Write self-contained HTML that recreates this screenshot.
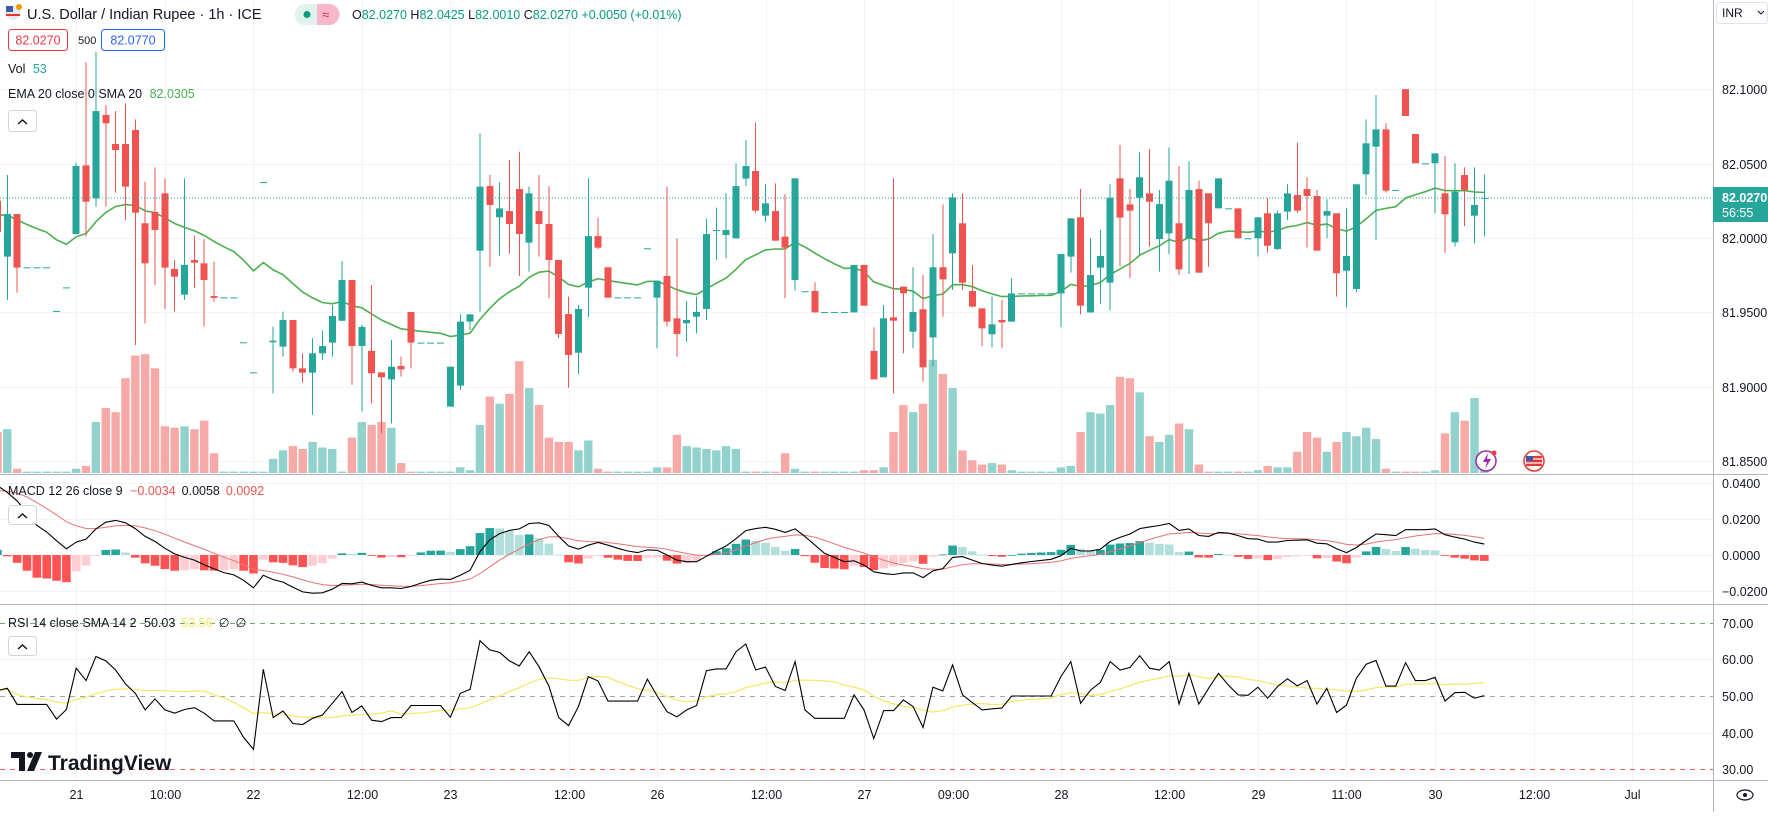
<!DOCTYPE html>
<html><head><meta charset="utf-8">
<style>
html,body{margin:0;padding:0;background:#fff;}
body{width:1768px;height:812px;overflow:hidden;font-family:"Liberation Sans",sans-serif;}
svg text{font-family:"Liberation Sans",sans-serif;}
</style></head>
<body>
<svg id="chart" xmlns="http://www.w3.org/2000/svg" width="1768" height="812" viewBox="0 0 1768 812">
  <rect x="0" y="0" width="1768" height="812" fill="#ffffff"/>
  <g id="grid"></g>
  <g id="vol"></g>
  <g id="ema"></g>
  <g id="candles"></g>
  <line x1="0" y1="198" x2="1713" y2="198" stroke="#26a69a" stroke-width="1" stroke-dasharray="1,2"/>
  <g id="macd"></g>
  <g id="rsi"></g>
  <g id="axes"></g>

  <!-- header -->
  <g>
    <circle cx="13" cy="13" r="7" fill="#e8e8f0"/>
    <rect x="6" y="6" width="7" height="6" fill="#3c5aa6"/>
    <line x1="6" y1="15" x2="20" y2="15" stroke="#d33" stroke-width="2"/>
    <circle cx="19" cy="7" r="3" fill="#f29900"/>
    <text x="27" y="19" font-size="14.5" fill="#131722">U.S. Dollar / Indian Rupee · 1h · ICE</text>
    <rect x="295" y="4" width="44" height="21" rx="10" fill="#dff3ec"/>
    <path d="M317 4 h12 a10 10 0 0 1 0 21 h-12 z" fill="#f7b8cc"/>
    <circle cx="307" cy="14.5" r="3.5" fill="#089981"/>
    <text x="322" y="19" font-size="13" fill="#e0245e">≈</text>
    <text x="352" y="19" font-size="12.5" fill="#089981"><tspan fill="#131722">O</tspan>82.0270 <tspan fill="#131722">H</tspan>82.0425 <tspan fill="#131722">L</tspan>82.0010 <tspan fill="#131722">C</tspan>82.0270 +0.0050 (+0.01%)</text>
    <rect x="8.5" y="29.5" width="59" height="21" rx="3" fill="#fff" stroke="#f23645"/>
    <text x="38" y="44.5" font-size="12.5" fill="#f23645" text-anchor="middle">82.0270</text>
    <text x="78" y="44" font-size="11" fill="#131722">500</text>
    <rect x="101.5" y="29.5" width="63" height="21" rx="3" fill="#fff" stroke="#2962ff"/>
    <text x="133" y="44.5" font-size="12.5" fill="#2962ff" text-anchor="middle">82.0770</text>
    <text x="8" y="73" font-size="12.5" fill="#131722">Vol <tspan fill="#26a69a" dx="4">53</tspan></text>
    <text x="8" y="98" font-size="12.5" fill="#131722">EMA 20 close 0 SMA 20 <tspan fill="#4caf50" dx="4">82.0305</tspan></text>
    <rect x="8.5" y="110.5" width="28" height="21" rx="3" fill="#fff" stroke="#d1d4dc"/>
    <path d="M18 124 l4.5 -4 l4.5 4" fill="none" stroke="#131722" stroke-width="1.5"/>
  </g>
  <g>
    <text x="8" y="495" font-size="12.5" fill="#131722">MACD 12 26 close 9 <tspan fill="#ef5350" dx="4">−0.0034</tspan><tspan fill="#131722" dx="6">0.0058</tspan><tspan fill="#ef5350" dx="6">0.0092</tspan></text>
    <rect x="8.5" y="505.5" width="28" height="19" rx="3" fill="#fff" stroke="#d1d4dc"/>
    <path d="M18 518 l4.5 -4 l4.5 4" fill="none" stroke="#131722" stroke-width="1.5"/>
  </g>
  <g>
    <text x="8" y="627" font-size="12.5" fill="#131722">RSI 14 close SMA 14 2 <tspan fill="#131722" dx="4">50.03</tspan><tspan fill="#f5e663" dx="6">53.56</tspan><tspan dx="6">∅</tspan><tspan dx="6">∅</tspan></text>
    <rect x="8.5" y="636.5" width="28" height="19" rx="3" fill="#fff" stroke="#d1d4dc"/>
    <path d="M18 649 l4.5 -4 l4.5 4" fill="none" stroke="#131722" stroke-width="1.5"/>
  </g>
  <g>
    <path d="M11 752 h14 v19 h-6 v-13 h-8 z" fill="#131722"/>
    <circle cx="30" cy="755" r="3" fill="#131722"/>
    <path d="M35 752 h7 l-8 19 h-7 z" fill="#131722"/>
    <text x="48" y="770" font-size="21" font-weight="bold" fill="#131722">TradingView</text>
  </g>
  <g>
    <circle cx="1486" cy="461" r="10" fill="#fff" stroke="#9c27b0" stroke-width="1.5"/>
    <path d="M1488 453 l-5 9 h4 l-2 7 l6 -10 h-4 z" fill="#9c27b0"/>
    <circle cx="1494" cy="453" r="2.5" fill="#f23645"/>
    <circle cx="1534" cy="461" r="10" fill="#fff" stroke="#e53935" stroke-width="1.5"/>
    <rect x="1526" y="456" width="16" height="10" fill="#e53935"/>
    <rect x="1526" y="456" width="7" height="5" fill="#3c5aa6"/>
    <line x1="1533" y1="459" x2="1542" y2="459" stroke="#fff" stroke-width="1.2"/>
    <line x1="1526" y1="463" x2="1542" y2="463" stroke="#fff" stroke-width="1.2"/>
  </g>
  <g>
    <rect x="1716.5" y="2.5" width="51" height="21" rx="3" fill="#fff" stroke="#e0e3eb"/>
    <text x="1722" y="17" font-size="12" fill="#131722">INR</text>
    <path d="M1758 11 l3 3 l3 -3" fill="none" stroke="#131722" stroke-width="1"/>
  </g>
  <g>
    <rect x="1713" y="187" width="55" height="35" fill="#26a69a"/>
    <text x="1722" y="202" font-size="12.5" font-weight="bold" fill="#fff">82.0270</text>
    <text x="1722" y="217" font-size="12.5" fill="#fff">56:55</text>
  </g>
  <g>
    <ellipse cx="1745" cy="795" rx="8" ry="5" fill="none" stroke="#131722" stroke-width="1.2"/>
    <circle cx="1745" cy="795" r="2" fill="#131722"/>
  </g>
</svg>
<script>
// ---------- data (index 0 corresponds to the partially visible candle at left edge) ----------
const opens = [82.025,81.9875,82.0161,81.9803,81.9803,81.9803,81.951,81.9668,82.0027,82.0488,82.0267,82.0827,82.0632,82.0632,82.0726,82.0099,82.0175,82.03,81.9792,81.9619,81.9852,81.983,81.961,81.9601,81.9601,81.9299,81.9097,82.0376,81.9299,81.927,81.9449,81.9124,81.9095,81.9225,81.9297,81.9444,81.9718,81.9274,81.9241,81.9097,81.905,81.914,81.9503,81.9297,81.9297,81.9297,81.8867,81.9008,81.9438,81.9915,82.0349,82.0139,82.0181,82.0329,81.9969,82.0181,82.0094,81.9852,81.9489,81.9229,81.9666,82.0013,81.9803,81.9601,81.9601,81.9601,81.9931,81.9599,81.9745,81.946,81.9427,81.9471,81.9523,82.0049,82.002,81.9998,82.0399,82.045,82.015,82.0181,82.0009,81.9718,81.9642,81.9644,81.9503,81.9503,81.9503,81.95,81.9819,81.9241,81.9064,81.9467,81.9673,81.937,81.9521,81.9332,81.9803,81.9897,82.0099,81.9644,81.9527,81.9353,81.9449,81.9438,81.9628,81.9628,81.9628,81.9628,81.9628,81.9875,82.0139,81.95,81.9801,81.97,82.0401,82.0226,82.0271,82.03,81.9993,82.0031,82.0099,81.9998,82.0329,82.03,82.0199,82.0199,82.0199,81.9998,81.9998,82.0166,81.9926,82.0177,82.0289,82.0329,82.0282,82.015,82.0166,81.978,81.9657,82.0428,82.0614,82.073,82.0323,82.1,82.0699,82.0502,82.0502,82.03,81.9971,82.0423,82.015,82.027];
const highs = [82.046,82.0423,82.0161,81.9803,81.9803,81.9803,81.951,81.9668,82.0506,82.118,82.125,82.0894,82.0853,82.0905,82.0797,82.0379,82.0475,82.0401,81.9852,82.0401,82.0016,81.9993,81.9841,81.9601,81.9601,81.9299,81.9097,82.0376,81.9404,81.9505,81.9449,81.9225,81.9326,81.9377,81.955,81.9845,81.9718,81.9415,81.9684,81.9097,81.9315,81.9203,81.9503,81.9297,81.9297,81.9297,81.9135,81.9487,81.9487,82.0703,82.0423,82.0374,82.0524,82.058,82.0345,82.0423,82.0349,81.9852,81.9606,81.955,82.0401,82.0137,81.9803,81.9601,81.9601,81.9601,81.9931,81.9713,82.0345,81.9998,81.9577,81.9606,82.0128,82.0204,82.03,82.0502,82.0659,82.0775,82.0361,82.0367,82.0296,82.0401,81.9642,81.9702,81.9503,81.9503,81.9503,81.9819,81.9819,81.94,81.955,82.0401,81.9673,81.9803,81.9751,82.0027,82.0226,82.03,82.03,81.9819,81.9527,81.9606,81.9583,81.9729,81.9628,81.9628,81.9628,81.9628,81.9892,82.0132,82.0329,81.9998,82.0054,82.0361,82.0625,82.0329,82.0576,82.0598,82.0323,82.0609,82.0484,82.0515,82.0385,82.03,82.0401,82.0199,82.0199,81.9998,82.0139,82.0267,82.0184,82.0361,82.0641,82.0408,82.0323,82.026,82.0166,82.0199,82.0361,82.0797,82.0961,82.0771,82.0323,82.1,82.0699,82.0502,82.0569,82.0551,82.0502,82.0475,82.0475,82.0425];
const lows = [81.999,81.9583,81.9633,81.9803,81.9803,81.9803,81.951,81.9668,82.0027,82.001,82.021,82.021,82.0305,82.0121,81.9281,81.9427,81.9684,81.9525,81.9505,81.9583,81.9666,81.9404,81.9572,81.9601,81.9601,81.9299,81.9097,82.0376,81.8956,81.9203,81.9102,81.9028,81.8811,81.918,81.9203,81.9442,81.9012,81.8833,81.8889,81.8687,81.8755,81.9068,81.9124,81.9297,81.9297,81.9297,81.8867,81.8979,81.9382,81.9505,81.9807,81.9881,81.9897,81.9745,81.9774,81.9875,81.9595,81.9326,81.8994,81.9086,81.9471,81.9924,81.9599,81.9601,81.9601,81.9601,81.9931,81.9259,81.9404,81.9203,81.9303,81.9359,81.9449,81.9852,81.9863,81.9998,82.0349,82.017,82.011,81.9982,81.9595,81.9646,81.9642,81.95,81.9503,81.9503,81.9503,81.95,81.9545,81.905,81.9064,81.8956,81.9225,81.9259,81.9035,81.9135,81.9471,81.9651,81.9651,81.9534,81.9274,81.9265,81.9259,81.9438,81.9628,81.9628,81.9628,81.9628,81.94,81.9767,81.9487,81.9498,81.9557,81.9514,81.9807,81.9731,81.9886,81.9942,81.9774,81.9892,81.9751,81.9758,81.9767,81.9807,82.0199,82.0199,81.9998,81.9998,81.9875,81.9901,81.9919,82.0121,82.017,81.9937,81.9915,81.9998,81.9606,81.9534,81.9635,82.0289,81.9987,82.0305,82.0323,82.082,82.0502,82.0502,82.0166,81.9901,81.9942,82.0081,81.9964,82.001];
const closes = [82.004,82.0161,81.9801,81.9803,81.9803,81.9803,81.951,81.9668,82.0484,82.0244,82.0853,82.0771,82.0591,82.0345,82.017,81.983,82.0054,81.9801,81.974,81.9819,81.9834,81.9718,81.9597,81.9601,81.9601,81.9299,81.9097,82.0376,81.931,81.9449,81.9124,81.9095,81.9225,81.9274,81.9476,81.9718,81.9274,81.9402,81.9091,81.9064,81.9135,81.9117,81.9297,81.9297,81.9297,81.9297,81.9135,81.9438,81.9487,82.0345,82.0222,82.0199,82.0094,82.0027,82.03,82.0094,81.9852,81.9355,81.9214,81.9523,82.0013,81.9935,81.9599,81.9601,81.9601,81.9601,81.9931,81.9713,81.9438,81.9355,81.9449,81.9503,82.0027,82.0054,82.0054,82.0349,82.0484,82.0184,82.0233,81.9982,81.9935,82.0401,81.9642,81.95,81.9503,81.9503,81.9503,81.9819,81.9545,81.905,81.946,81.9444,81.9628,81.9503,81.9131,81.9803,81.9722,82.0273,81.97,81.9539,81.9393,81.942,81.9433,81.9628,81.9628,81.9628,81.9628,81.9628,81.9892,82.0132,81.9545,81.9751,81.9879,82.0271,82.0137,82.0184,82.0408,82.0244,82.0228,82.0385,81.9789,82.0323,81.9767,82.0099,82.0401,82.0199,81.9998,81.9998,82.0139,81.9948,82.0166,82.03,82.0184,82.0282,81.9915,82.0181,81.9763,81.9879,82.0361,82.0636,82.073,82.0318,82.0323,82.082,82.0502,82.0502,82.0569,82.0159,82.0311,82.0323,82.0222,82.027];
const volumes = [29,31,3,1,1,1,1,1,3,5,36,46,43,67,83,84,74,33,32,33,31,37,14,1,1,1,1,1,10,16,19,17,22,18,17,1,25,36,34,36,32,7,1,1,1,1,1,4,2,34,54,49,56,79,60,48,25,22,22,16,23,3,1,1,1,1,1,4,4,27,19,18,17,16,19,17,1,1,1,1,14,3,1,1,1,1,1,1,2,2,4,29,48,43,49,80,70,60,16,9,6,7,6,2,1,1,1,1,4,5,29,43,42,48,68,67,57,26,22,27,35,31,6,1,1,1,1,1,2,5,4,4,15,29,25,15,22,29,26,32,24,3,1,1,1,1,2,28,43,37,53,2];
const macdLine = [0.0383,0.0346,0.0299,0.0234,0.0164,0.0127,0.0079,0.0034,0.0071,0.0088,0.0144,0.0181,0.0191,0.0178,0.0146,0.0103,0.0075,0.0037,0.0006,-0.0013,-0.0028,-0.0054,-0.0077,-0.0097,-0.011,-0.014,-0.0181,-0.0112,-0.0136,-0.015,-0.0178,-0.0204,-0.0211,-0.0209,-0.0189,-0.0157,-0.0159,-0.015,-0.0168,-0.0181,-0.0181,-0.0185,-0.0174,-0.0155,-0.014,-0.0133,-0.0135,-0.0112,-0.0084,0.0019,0.0084,0.0118,0.0136,0.0144,0.0174,0.0178,0.0163,0.0103,0.005,0.0032,0.0054,0.0069,0.0054,0.0037,0.0022,0.0013,0.0028,0.0026,0,-0.0028,-0.0037,-0.0037,-0.0007,0.0024,0.005,0.009,0.0135,0.0146,0.0153,0.0142,0.0125,0.0144,0.0103,0.0056,0.0009,-0.0013,-0.0037,-0.0032,-0.0056,-0.0093,-0.0103,-0.0108,-0.0099,-0.0099,-0.0125,-0.0088,-0.0075,-0.0013,-0.0009,-0.0028,-0.0047,-0.0056,-0.0062,-0.0052,-0.0043,-0.0036,-0.003,-0.0024,-0.0004,0.0037,0.0022,0.0022,0.0032,0.0075,0.0097,0.0116,0.0146,0.0155,0.0163,0.0174,0.0136,0.0144,0.0108,0.0103,0.0125,0.0121,0.0107,0.009,0.0088,0.0071,0.0071,0.008,0.0082,0.0084,0.0065,0.0062,0.0034,0.0013,0.0041,0.008,0.0116,0.0112,0.0107,0.014,0.014,0.014,0.0144,0.0112,0.0099,0.0088,0.0071,0.006];
const rsiLine = [51.5,52.1,47.7,47.7,47.7,47.7,43.7,46.3,57.6,54.2,60.8,59.6,57.1,53.3,50.7,46.2,49.2,46.2,45.3,46.3,46.8,45.3,43.2,43.2,43.2,38.7,35.4,57.3,44.1,45.9,42.5,42.2,43.9,44.8,48,51.2,45.5,47.3,43.4,43,44.1,44.1,47.4,47.4,47.4,47.4,44.2,50.7,51.8,65.1,62.6,61.9,59.6,58.2,62.1,58,52.7,44.1,41.9,47.1,55.3,54.1,48.6,48.6,48.6,48.6,54.6,50,45.7,44.3,46.2,47.4,56.9,57.4,57.4,62.1,64.2,57.1,57.9,52.6,51.5,59.4,46.2,43.9,43.9,43.9,43.9,50.3,46.2,38.4,46,46,48.9,47.1,41.4,52.4,51.4,58.5,50.3,48.2,46.2,46.5,46.7,50,50,50,50,50,55.3,59.4,48,51.6,53.7,59.4,57.1,57.8,61,57.6,57.1,59.4,47.8,56.2,47.8,52.1,56.2,53,50.3,50.2,52.4,49.4,52.6,54.7,52.8,54.2,47.8,52.1,45.5,47.5,54.8,58.7,59.7,52.7,52.7,59.1,54.2,54.2,55.1,48.6,50.9,51,49.4,50.1];
const emaSeed = 82.0154;     // EMA value read at first visible bar
const signalSeed = 0.0355;   // MACD signal value read at first visible bar
const priceTicks = [82.10, 82.05, 82.00, 81.95, 81.90, 81.85];
const macdTicks = [0.04, 0.02, 0.00, -0.02];
const rsiTicks = [70, 60, 50, 40, 30];
const timeLabels = ["21","10:00","22","12:00","23","12:00","26","12:00","27","09:00","28","12:00","29","11:00","30","12:00","Jul"];
const timeLabelBars = [8,17,26,37,46,58,67,78,88,97,108,119,128,137,146,156,166];

// ---------- scales ----------
const NS = "http://www.w3.org/2000/svg";
const BAR = 9.847, X0 = 7.3 - 9.847;
const xOf = k => X0 + BAR * k;
const yP = p => 238 - (p - 82) * 1488;
const yV = v => 473 - v * 1.415;
const yM = m => 555 - m * 1810;
const yR = r => 696 - (r - 50) * 3.66;
const PLOT_R = 1713;
const UP = "#26a69a", DN = "#ef5350";

function mk(tag, attrs, parent) {
  const e = document.createElementNS(NS, tag);
  for (const k in attrs) e.setAttribute(k, attrs[k]);
  parent.appendChild(e);
  return e;
}
const grid = document.getElementById('grid');
const axes = document.getElementById('axes');

// grid: vertical time lines
timeLabelBars.forEach((b, j) => {
  const x = Math.round(xOf(b)) + 0.5;
  const l = mk('line', {x1: x, y1: 0, x2: x, y2: 780, stroke: '#f0f3fa', 'stroke-width': 1}, grid);
  
  
  const t = mk('text', {x: x, y: 799, 'font-size': 12.5, fill: '#131722', 'text-anchor': 'middle'}, axes);
  t.textContent = timeLabels[j];
  
  
});
// horizontal price grid + labels
priceTicks.forEach(p => {
  const y = Math.round(yP(p)) + 0.5;
  const l = mk('line', {x1: 0, y1: y, x2: PLOT_R, y2: y, stroke: '#f0f3fa'}, grid);
  
  
  const t = mk('text', {x: 1722, y: y + 4.5, 'font-size': 12.5, fill: '#131722'}, axes);
  t.textContent = p.toFixed(4);
  
  
});
macdTicks.forEach(m => {
  const y = Math.round(yM(m)) + 0.5;
  const l = mk('line', {x1: 0, y1: y, x2: PLOT_R, y2: y, stroke: '#f0f3fa'}, grid);
  
  
  const t = mk('text', {x: 1722, y: y + 4.5, 'font-size': 12.5, fill: '#131722'}, axes);
  t.textContent = (m < 0 ? '−' : '') + Math.abs(m).toFixed(4);
  
  
});
rsiTicks.forEach(r => {
  const y = Math.round(yR(r)) + 0.5;
  let stroke = '#f0f3fa', dash = null;
  if (r === 70) { stroke = '#6aa86e'; dash = '5,5'; }
  if (r === 50) { stroke = '#a3a6af'; dash = '5,5'; }
  if (r === 30) { stroke = '#e0605c'; dash = '5,5'; }
  const l = mk('line', {x1: 0, y1: y, x2: PLOT_R, y2: y, stroke: stroke}, grid);
  if (dash) l.setAttribute('stroke-dasharray', dash);
  
  
  const t = mk('text', {x: 1722, y: y + 4.5, 'font-size': 12.5, fill: '#131722'}, axes);
  t.textContent = r.toFixed(2);
  
  
});
// pane separators and axis borders
[[0, 474.5, 1768, 474.5], [0, 604.5, 1768, 604.5], [0, 780.5, 1768, 780.5], [1713.5, 0, 1713.5, 812]].forEach(c => {
  const l = mk('line', {x1: c[0], y1: c[1], x2: c[2], y2: c[3], stroke: '#b2b5be', 'stroke-width': 1}, axes);
  
  
});

// volume
const volG = document.getElementById('vol');
volumes.forEach((v, k) => {
  const up = closes[k] >= opens[k];
  const x = xOf(k);
  const r = mk('rect', {x: x - 4.2, y: yV(v), width: 8.4, height: Math.max(0.8, 473 - yV(v)), fill: up ? '#92d2cc' : '#f7a9a7'}, volG);
  
  
});

// candles
const cG = document.getElementById('candles');
closes.forEach((c, k) => {
  const o = opens[k], h = highs[k], l = lows[k];
  const col = c >= o ? UP : DN;
  const x = Math.round(xOf(k) * 2) / 2;
  const g = mk('g', {}, cG);
  
  
  if (h !== l) mk('line', {x1: x, y1: yP(h), x2: x, y2: yP(l), stroke: col, 'stroke-width': 1}, g);
  const top = yP(Math.max(o, c)), bot = yP(Math.min(o, c));
  mk('rect', {x: x - 3.5, y: top, width: 7, height: Math.max(1, bot - top), fill: col}, g);
});

// EMA 20 of close
const emaVals = [];
closes.forEach((c, k) => {
  const a = 2 / 21;
  emaVals.push(k === 0 ? emaSeed : emaVals[k - 1] + a * (c - emaVals[k - 1]));
});
const emaP = mk('polyline', {points: emaVals.map((v, k) => xOf(k).toFixed(1) + ',' + yP(v).toFixed(1)).join(' '), fill: 'none', stroke: '#4caf50', 'stroke-width': 1.6}, document.getElementById('ema'));



// MACD
const mG = document.getElementById('macd');
const signal = [];
macdLine.forEach((m, k) => {
  signal.push(k === 0 ? signalSeed : signal[k - 1] + (2 / 10) * (m - signal[k - 1]));
});
const hist = macdLine.map((m, k) => m - signal[k]);
hist.forEach((h, k) => {
  const prev = k > 0 ? hist[k - 1] : h;
  let col;
  if (h >= 0) col = h >= prev ? '#26a69a' : '#b2dfdb';
  else col = h <= prev ? '#ff5252' : '#ffcdd2';
  const y0 = yM(0), y1 = yM(h);
  const r = mk('rect', {x: xOf(k) - 4.3, y: Math.min(y0, y1), width: 8.6, height: Math.max(0.8, Math.abs(y1 - y0)), fill: col}, mG);
  
  
});
const sigP = mk('polyline', {points: signal.map((v, k) => xOf(k).toFixed(1) + ',' + yM(v).toFixed(1)).join(' '), fill: 'none', stroke: '#e57373', 'stroke-width': 1}, mG);


const macdP = mk('polyline', {points: macdLine.map((v, k) => xOf(k).toFixed(1) + ',' + yM(v).toFixed(1)).join(' '), fill: 'none', stroke: '#000000', 'stroke-width': 1.1}, mG);



// RSI
const rG = document.getElementById('rsi');
const rsiSma = rsiLine.map((v, k) => {
  const s = rsiLine.slice(Math.max(0, k - 13), k + 1);
  return s.reduce((a, b) => a + b, 0) / s.length;
});
const smaP = mk('polyline', {points: rsiSma.map((v, k) => xOf(k).toFixed(1) + ',' + yR(v).toFixed(1)).join(' '), fill: 'none', stroke: '#f5e663', 'stroke-width': 1.2}, rG);


const rsiP = mk('polyline', {points: rsiLine.map((v, k) => xOf(k).toFixed(1) + ',' + yR(v).toFixed(1)).join(' '), fill: 'none', stroke: '#000000', 'stroke-width': 1.1}, rG);


</script>
</body></html>
